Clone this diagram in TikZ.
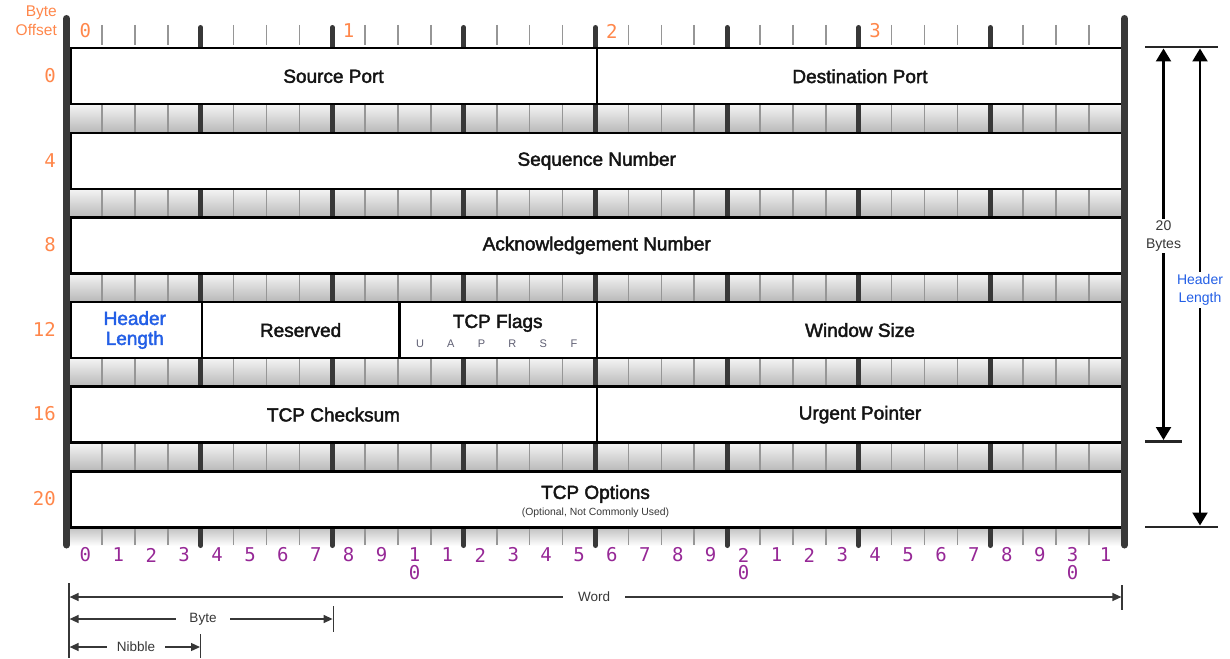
\documentclass[tikz,border=0pt]{standalone}
\usepackage{fontspec}
\setmainfont{Liberation Sans}
\newfontfamily\monofont{DejaVu Sans Mono}
\newfontface\medface{Liberation Sans}[FakeBold=2.2]
\usetikzlibrary{arrows.meta}
\definecolor{offorange}{RGB}{255,135,75}
\definecolor{bitpurple}{RGB}{150,40,150}
\definecolor{hlblue}{RGB}{35,95,230}
\definecolor{bardark}{RGB}{56,56,56}
\definecolor{tickgray}{RGB}{150,150,150}
\definecolor{dimgray}{RGB}{55,55,55}
\definecolor{flaggray}{RGB}{95,95,115}
\newcommand\fieldbox[5]{\node[field, minimum width={#3*32.906pt}, minimum height=56pt] (#1) at ({69+#2*32.906},{47+#4*84.6}) {#5};}
\begin{document}
\begin{tikzpicture}[x=1pt,y=-1pt,
  field/.style={draw=black, line width=2.5pt, fill=white, inner sep=0pt, anchor=north west,
     text=black!92, font=\medface\fontsize{19}{22}\selectfont},
  thintick/.style={draw=tickgray, line width=1.6pt},
  thicktick/.style={draw=bardark, line width=5pt},
  roundtick/.style={draw=bardark, line width=5pt, line cap=round},
  bar/.style={draw=bardark, line width=7pt, line cap=round},
  rowlab/.style={text=offorange, font=\monofont\fontsize{19}{20}\selectfont, anchor=east, inner sep=0pt},
  bytelab/.style={text=offorange, font=\monofont\fontsize{19}{20}\selectfont, inner sep=0pt},
  bitlab/.style={text=bitpurple, font=\monofont\fontsize{19}{20}\selectfont, inner sep=0pt},
  sidelab/.style={fill=white, align=center, font=\fontsize{14}{18}\selectfont, inner sep=2pt},
  dimlab/.style={fill=white, text=dimgray, font=\fontsize{13.5}{15}\selectfont, inner ysep=2pt},
  dimline/.style={draw=dimgray, line width=1.3pt},
  dimarrow/.style={draw=dimgray, line width=1.3pt, {Triangle[length=9pt,width=8pt]}-{Triangle[length=9pt,width=8pt]}},
  bigarrow/.style={draw=black, line width=2.2pt, {Triangle[length=13pt,width=15pt]}-{Triangle[length=13pt,width=15pt]}},
  refline/.style={draw=black!85, line width=2.5pt},
]
\useasboundingbox (0,0) rectangle (1230,658);
\def\bw{32.906}
% grey strips between rows
\foreach \r in {0,...,4} {
  \pgfmathsetmacro\ya{103+\r*84.6}
  \pgfmathsetmacro\yb{131.6+\r*84.6}
  \shade[top color=black!3, bottom color=black!27] (69,\ya) rectangle (1122,\yb);
  \foreach \b in {1,...,31} {
    \pgfmathsetmacro\xx{69+\b*\bw}
    \pgfmathtruncatemacro\m{mod(\b,4)}
    \ifnum\m=0 \draw[thicktick] (\xx,\ya) -- (\xx,\yb); \else \draw[thintick] (\xx,\ya) -- (\xx,\yb); \fi
  }
}
% bottom ruler strip
\shade[top color=black!25, bottom color=white] (69,527) rectangle (1122,546);
\foreach \b in {1,...,31} {
  \pgfmathsetmacro\xx{69+\b*\bw}
  \pgfmathtruncatemacro\m{mod(\b,4)}
  \ifnum\m=0 \draw[roundtick] (\xx,527) -- (\xx,545.5); \else \draw[thintick] (\xx,527) -- (\xx,545); \fi
}
% top ruler
\foreach \b in {1,...,31} {
  \pgfmathsetmacro\xx{69+\b*\bw}
  \pgfmathtruncatemacro\m{mod(\b,4)}
  \ifnum\m=0 \draw[roundtick] (\xx,27.5) -- (\xx,47); \else \draw[thintick] (\xx,25) -- (\xx,45); \fi
}
% fields
\fieldbox{sp}{0}{16}{0}{Source Port}
\fieldbox{dp}{16}{16}{0}{Destination Port}
\fieldbox{seq}{0}{32}{1}{Sequence Number}
\fieldbox{ack}{0}{32}{2}{Acknowledgement Number}
\fieldbox{hl}{0}{4}{3}{}
\fieldbox{res}{4}{6}{3}{Reserved}
\fieldbox{flg}{10}{6}{3}{}
\fieldbox{win}{16}{16}{3}{Window Size}
\fieldbox{chk}{0}{16}{4}{TCP Checksum}
\fieldbox{urg}{16}{16}{4}{Urgent Pointer}
\fieldbox{opt}{0}{32}{5}{}
\node[align=center, text=hlblue, font=\medface\fontsize{19}{20}\selectfont, inner sep=0pt] (hltext) at (134.8,330) {Header\\Length};
\node[text=black!92, font=\medface\fontsize{19}{22}\selectfont, inner sep=0pt] (flgtext) at (497.7,323) {TCP Flags};
\foreach \f [count=\k from 0] in {U,A,P,R,S,F} {
  \node[text=flaggray, font=\fontsize{11}{12}\selectfont, inner sep=0pt] (flag\k) at ({420+30.8*\k},343.5) {\f};
}
\node[text=black!92, font=\medface\fontsize{19}{22}\selectfont, inner sep=0pt] (opttext) at (595.5,494) {TCP Options};
\node[text=dimgray, font=\fontsize{10.4}{12}\selectfont, inner sep=0pt] (optsub) at (595.5,513) {(Optional, Not Commonly Used)};
% side bars
\draw[bar] (66.5,18.5) -- (66.5,545);
\draw[bar] (1124.5,18.5) -- (1124.5,545);
% byte offset labels
\node[text=offorange, font=\fontsize{15.5}{17}\selectfont, anchor=east, inner sep=0pt] (bo1) at (57,13) {Byte};
\node[text=offorange, font=\fontsize{15.5}{17}\selectfont, anchor=east, inner sep=0pt] (bo2) at (57,30) {Offset};
\foreach \n [count=\k from 0] in {0,4,8,12,16,20} {
  \node[rowlab] (row\k) at (56,{75.5+\k*84.6}) {\n};
}
\foreach \n [count=\k from 0] in {0,1,2,3} {
  \node[bytelab] (byte\k) at ({69+(8*\k+0.5)*\bw},31) {\n};
}
% bit numbers
\foreach \b in {0,...,31} {
  \pgfmathtruncatemacro\d{mod(\b,10)}
  \pgfmathtruncatemacro\t{\b/10}
  \pgfmathsetmacro\xx{69+(\b+0.5)*\bw}
  \ifnum\d=0 \ifnum\b>0
     \node[bitlab] (bit\b) at (\xx,555) {\t};
     \node[bitlab] (bitz\b) at (\xx,573) {0};
   \else
     \node[bitlab] (bit\b) at (\xx,555) {0};
   \fi
  \else
     \node[bitlab] (bit\b) at (\xx,555) {\d};
  \fi
}
% right side dimension arrows
\coordinate (rt1) at (1145,47); \coordinate (rt2) at (1218,47);
\coordinate (rm1) at (1145,441.5); \coordinate (rm2) at (1182,441.5);
\coordinate (rb1) at (1145,527); \coordinate (rb2) at (1218,527);
\draw[refline] (rt1) -- (rt2);
\draw[refline] (rm1) -- (rm2);
\draw[refline] (rb1) -- (rb2);
\coordinate (a20t) at (1163.5,48.5); \coordinate (a20b) at (1163.5,440);
\coordinate (ahlt) at (1200,48.5); \coordinate (ahlb) at (1200,525.5);
\draw[bigarrow] (a20t) -- (a20b);
\draw[bigarrow] (ahlt) -- (ahlb);
\node[sidelab, text=dimgray] (l20) at (1163.5,236) {20\\Bytes};
\node[sidelab, text=hlblue] (lhl) at (1200,290) {Header\\Length};
% bottom dimension lines
\coordinate (v0a) at (69,583); \coordinate (v0b) at (69,658);
\coordinate (vwa) at (1122,585); \coordinate (vwb) at (1122,610);
\coordinate (vba) at (333.2,606); \coordinate (vbb) at (333.2,632);
\coordinate (vna) at (200.6,634); \coordinate (vnb) at (200.6,658);
\draw[dimline] (v0a) -- (v0b);
\draw[dimline] (vwa) -- (vwb);
\draw[dimline] (vba) -- (vbb);
\draw[dimline] (vna) -- (vnb);
\coordinate (wl) at (69.6,597); \coordinate (wr) at (1121.4,597);
\coordinate (bl) at (69.6,619); \coordinate (br) at (332.6,619);
\coordinate (nl) at (69.6,647); \coordinate (nr) at (200,647);
\draw[dimarrow] (wl) -- (wr);
\draw[dimarrow] (bl) -- (br);
\draw[dimarrow] (nl) -- (nr);
\node[dimlab, inner xsep=15pt] (word) at (594,597) {Word};
\node[dimlab, inner xsep=13pt] (bytel) at (203,619) {Byte};
\node[dimlab, inner xsep=10pt] (nib) at (136,647) {Nibble};
\end{tikzpicture}
\end{document}
